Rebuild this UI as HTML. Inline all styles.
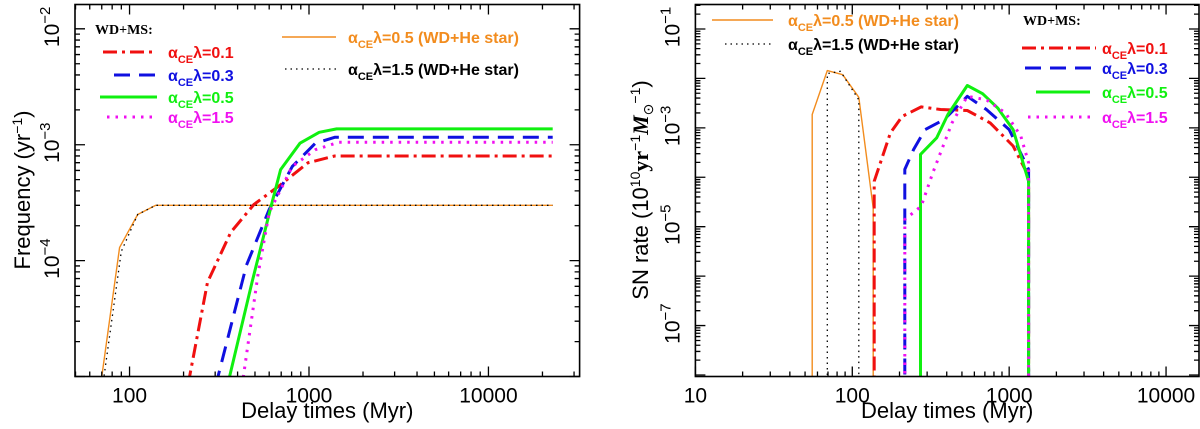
<!DOCTYPE html>
<html><head><meta charset="utf-8"><style>
html,body{margin:0;padding:0;background:#fff;width:1200px;height:429px;overflow:hidden;}
svg{display:block;font-family:"Liberation Sans",sans-serif;}
</style></head><body>
<svg id="c" width="1200" height="429" xmlns="http://www.w3.org/2000/svg"></svg>
<script>
// ---- Left panel data (Frequency vs delay time) ----
const L_heA_x=[60,70,88,111,140,22800];
const L_heA_y=[2e-6,1e-5,1.3e-4,2.5e-4,3.0e-4,3.0e-4];
const L_heB_x=[62,72,90,111,140,22800];
const L_heB_y=[2e-6,1e-5,1.2e-4,2.5e-4,3.0e-4,3.0e-4];
const L_a01_x=[210,216,272,366,493,693,989,1390,22800];
const L_a01_y=[5e-6,1e-5,6.5e-5,1.75e-4,3.05e-4,4.5e-4,7.0e-4,8.0e-4,8.0e-4];
const L_a03_x=[300,311,448,600,807,1085,1390,22800];
const L_a03_y=[5e-6,1e-5,9.1e-5,2.76e-4,6.5e-4,1.03e-3,1.16e-3,1.16e-3];
const L_a05_x=[345,361,481,615,695,891,1140,1425,22800];
const L_a05_y=[5e-6,1e-5,6.5e-5,2.95e-4,6.1e-4,1.03e-3,1.28e-3,1.37e-3,1.37e-3];
const L_a15_x=[420,431,519,600,807,1085,1460,22800];
const L_a15_y=[5e-6,1e-5,7.5e-5,2.6e-4,6.5e-4,9.06e-4,1.05e-3,1.05e-3];
const L_xticks=[100,1000,10000];
const L_yticks=[-2,-3,-4];
// ---- Right panel data (SN rate vs delay time) ----
const R_heA_x=[55.5,55.5,69.3,86.9,110,136,136];
const R_heA_y=[1e-9,1.86e-3,1.44e-2,1.19e-2,4.15e-3,2.4e-5,1e-9];
const R_heB_x=[69.3,69.3,84,110,110];
const R_heB_y=[1e-9,1.25e-2,1.39e-2,3.7e-3,1e-9];
const R_a01_x=[138,138,175,208,275,365,541,757,1060,1330,1330];
const R_a01_y=[1e-9,8.3e-5,7.9e-4,1.7e-3,2.65e-3,2.35e-3,2.24e-3,1.26e-3,4.3e-4,1.05e-4,1e-9];
const R_a03_x=[216,216,246,291,385,541,716,1000,1330,1330];
const R_a03_y=[1e-9,1.44e-4,3.65e-4,9.2e-4,1.47e-3,4.35e-3,2.35e-3,9.2e-4,1.44e-4,1e-9];
const R_a05_x=[272,272,345,407,541,677,847,1060,1330,1330];
const R_a05_y=[1e-9,2.9e-4,6.3e-4,1.86e-3,7.2e-3,4.9e-3,2.5e-3,9.2e-4,8.3e-5,1e-9];
const R_a15_x=[216,216,275,326,432,541,716,948,1186,1330,1330];
const R_a15_y=[1e-9,1.4e-5,2.6e-5,1.23e-4,1.26e-3,4.35e-3,3.7e-3,2e-3,6.8e-4,1.96e-4,1e-9];
const R_xticks=[10,100,1000,10000];
const R_yticks=[-1,-3,-5,-7];

const NS="http://www.w3.org/2000/svg";
const svg=document.getElementById('c');
function mk(tag,attrs,parent){const e=document.createElementNS(NS,tag);for(const k in attrs)e.setAttribute(k,attrs[k]);(parent||svg).appendChild(e);return e;}

function panel(P){
  const g=mk('g',{});
  
  
  const sx=v=>P.x0+(Math.log10(v)-P.lx0)/(P.lx1-P.lx0)*(P.x1-P.x0);
  const sy=v=>P.y1-(Math.log10(v)-P.ly0)/(P.ly1-P.ly0)*(P.y1-P.y0);
  const cid='clip'+P.id;
  const cp=mk('clipPath',{id:cid},g);mk('rect',{x:P.x0,y:P.y0,width:P.x1-P.x0,height:P.y1-P.y0},cp);
  const sg=mk('g',{'clip-path':'url(#'+cid+')'},g);
  P.series.forEach(s=>{
    const d=s.x.map((v,i)=>(i?'L':'M')+sx(v).toFixed(1)+','+sy(s.y[i]).toFixed(1)).join('');
    const p=mk('path',{d:d,fill:'none',stroke:s.c,'stroke-width':s.w,'stroke-dasharray':s.dash||'none','stroke-linejoin':'round'},sg);
    
    
  });
  const fr=mk('rect',{x:P.x0,y:P.y0,width:P.x1-P.x0,height:P.y1-P.y0,fill:'none',stroke:'#000','stroke-width':1.6},g);
  
  
  let tk='';
  for(let e=Math.floor(P.lx0);e<=Math.ceil(P.lx1);e++){for(let m=1;m<10;m++){const v=m*Math.pow(10,e);const lv=Math.log10(v);if(lv<P.lx0-1e-6||lv>P.lx1+1e-6)continue;const x=sx(v);const L=m==1?10:5;tk+=`M${x},${P.y1}v${-L}M${x},${P.y0}v${L}`;}}
  for(let e=Math.floor(P.ly0);e<=Math.ceil(P.ly1);e++){for(let m=1;m<10;m++){const v=m*Math.pow(10,e);const lv=Math.log10(v);if(lv<P.ly0-1e-6||lv>P.ly1+1e-6)continue;const y=sy(v);const L=m==1?10:5;tk+=`M${P.x0},${y}h${L}M${P.x1},${y}h${-L}`;}}
  const tp=mk('path',{d:tk,stroke:'#000','stroke-width':1.3,fill:'none'},g);
  
  
  P.xticks.forEach(v=>{
    const t=mk('text',{x:sx(v),y:P.y1+26,'text-anchor':'middle','font-size':21},g);t.textContent=String(v);
    
    
  });
  P.yticks.forEach(e=>{
    const y=sy(Math.pow(10,e));
    const t=mk('text',{x:0,y:0,'text-anchor':'middle','font-size':21,transform:`translate(${P.x0-16},${y-2}) rotate(-90)`},g);
    t.innerHTML='10<tspan dy="-9" font-size="15">−'+Math.abs(e)+'</tspan>';
    
    
  });
  const xt=mk('text',{x:(P.x0+P.x1)/2,y:418,'text-anchor':'middle','font-size':22},g);xt.textContent='Delay times (Myr)';
  
  
  const yt=mk('text',{x:0,y:0,'text-anchor':'middle','font-size':22,transform:`translate(${P.ytx},${P.yty}) rotate(-90)`},g);
  yt.innerHTML=P.ytitle;
  
  
  P.legend.forEach(l=>{
    const ln=mk('line',{x1:l.x1,x2:l.x2,y1:l.y,y2:l.y,stroke:l.c,'stroke-width':l.w,'stroke-dasharray':l.dash||'none'},g);
    
    
    const t=mk('text',{x:l.tx,y:l.y+6,fill:l.tc||l.c,'font-size':16,'font-weight':'bold'},g);
    t.innerHTML='α<tspan dy="5" font-size="11">CE</tspan><tspan dy="-5">λ='+l.t+'</tspan>';
    
    
  });
  const wd=mk('text',{x:P.wdx,y:P.wdy,'font-size':14,'font-weight':'bold','font-family':'Liberation Serif,serif'},g);wd.textContent='WD+MS:';
  
  
}
const ORG='#f28c1e',RED='#f01010',BLU='#1010e0',GRN='#10f010',MAG='#f010f0';
function ser(x,y,c,w,dash,name){return {x,y,c,w,dash,name};}
panel({id:'L',name:'left-panel-frequency',x0:75,x1:579.6,y0:4.5,y1:376.5,lx0:1.696,lx1:4.508,ly0:-5,ly1:-1.79,
  xticks:L_xticks,yticks:L_yticks,ytx:30,yty:190,ytitle:'Frequency (yr<tspan dy="-8" font-size="14">−1</tspan><tspan dy="8">)</tspan>',
  series:[ser(L_heA_x,L_heA_y,ORG,1.4,null,'series-he-0.5'),ser(L_heB_x,L_heB_y,'#000',1.3,'1.5,4','series-he-1.5'),
    ser(L_a01_x,L_a01_y,RED,3,'14,5,3,5','series-ms-0.1'),ser(L_a03_x,L_a03_y,BLU,3,'16,9','series-ms-0.3'),
    ser(L_a05_x,L_a05_y,GRN,3,null,'series-ms-0.5'),ser(L_a15_x,L_a15_y,MAG,3,'2.5,6','series-ms-1.5')],
  legend:[{x1:103,x2:157,y:52,c:RED,w:3,dash:'14,5,3,5',tx:168,t:'0.1'},{x1:114,x2:157,y:75,c:BLU,w:3,dash:'16,9',tx:168,t:'0.3'},
    {x1:100,x2:157,y:97,c:GRN,w:3,tx:168,t:'0.5'},{x1:107,x2:157,y:117,c:MAG,w:3,dash:'2.5,6',tx:168,t:'1.5'},
    {x1:282,x2:336,y:37,c:ORG,w:1.4,tx:348,t:'0.5 (WD+He star)'},{x1:285,x2:336,y:69,c:'#000',w:1.3,dash:'1.5,4',tx:348,t:'1.5 (WD+He star)'}],
  wdx:95,wdy:34});
panel({id:'R',name:'right-panel-sn-rate',x0:695.4,x1:1199,y0:4.5,y1:376.5,lx0:1,lx1:4.21,ly0:-8.03,ly1:-0.505,
  xticks:R_xticks,yticks:R_yticks,ytx:648,yty:190,ytitle:'SN rate (10<tspan dy="-8" font-size="14">10</tspan><tspan dy="8" font-weight="bold" font-family="Liberation Serif,serif">yr</tspan><tspan dy="-8" font-size="14">−1</tspan><tspan dy="8" font-style="italic" font-weight="bold" font-family="Liberation Serif,serif">M</tspan><tspan dy="5" font-size="14">⊙</tspan><tspan dy="-13" font-size="14">−1</tspan><tspan dy="8">)</tspan>',
  series:[ser(R_heA_x,R_heA_y,ORG,1.4,null,'series-he-0.5'),ser(R_heB_x,R_heB_y,'#000',1.3,'1.5,4','series-he-1.5'),
    ser(R_a01_x,R_a01_y,RED,3,'14,5,3,5','series-ms-0.1'),ser(R_a03_x,R_a03_y,BLU,3,'16,9','series-ms-0.3'),
    ser(R_a05_x,R_a05_y,GRN,3,null,'series-ms-0.5'),ser(R_a15_x,R_a15_y,MAG,3,'2.5,6','series-ms-1.5')],
  legend:[{x1:712,x2:773,y:20,c:ORG,w:1.4,tx:788,t:'0.5 (WD+He star)'},{x1:725,x2:773,y:44,c:'#000',w:1.3,dash:'1.5,4',tx:788,t:'1.5 (WD+He star)'},
    {x1:1022,x2:1096,y:48,c:RED,w:3,dash:'14,5,3,5',tx:1102,t:'0.1'},{x1:1025,x2:1096,y:68,c:BLU,w:3,dash:'16,9',tx:1102,t:'0.3'},
    {x1:1036,x2:1090,y:92,c:GRN,w:3,tx:1102,t:'0.5'},{x1:1028,x2:1096,y:117,c:MAG,w:3,dash:'2.5,6',tx:1102,t:'1.5'}],
  wdx:1023,wdy:25});
</script>
</body></html>
